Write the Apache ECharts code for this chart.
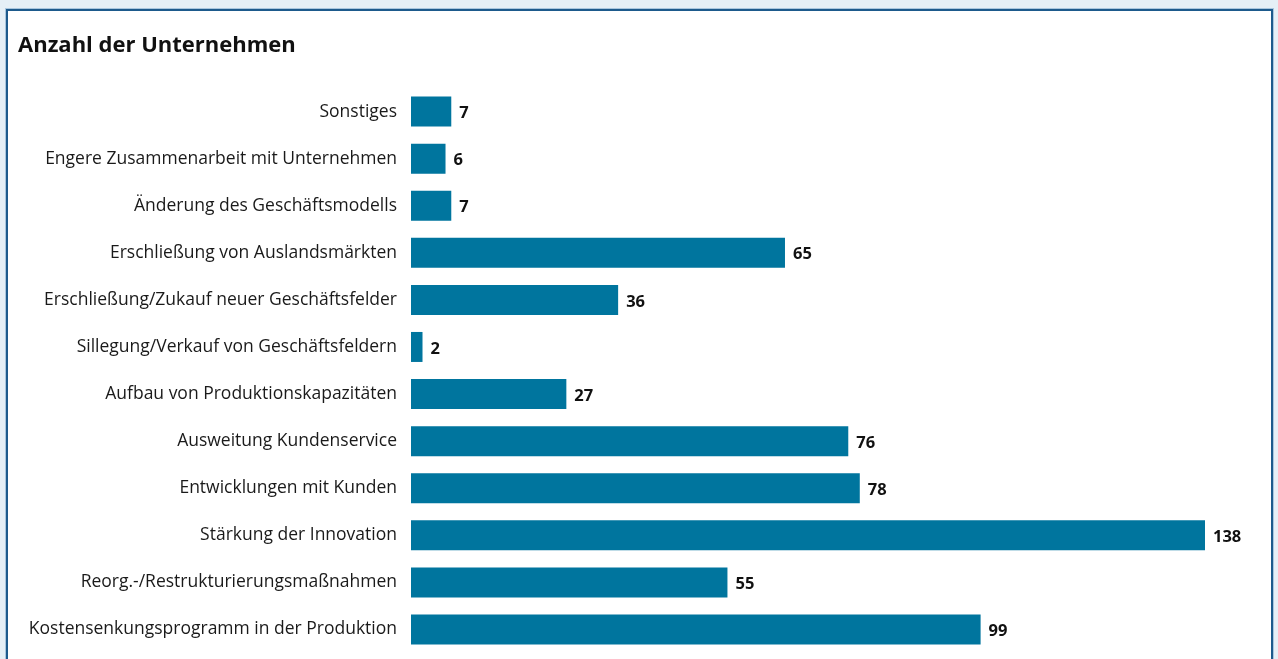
<!DOCTYPE html>
<html>
<head>
<meta charset="utf-8">
<script src="https://cdn.jsdelivr.net/npm/echarts@6/dist/echarts.min.js"></script>
<style>
  html, body { margin: 0; padding: 0; background: #e5eff6; width: 1278px; height: 659px; overflow: hidden; }
  #panel {
    position: absolute; left: 6px; top: 9px; width: 1263px; height: 660px;
    background: #fff; border: 2px solid #1d5a8c; border-bottom: none;
    box-shadow: 0 0 0 1px #a9c6de;
  }
  #chart { position: absolute; left: 0; top: 0; width: 1278px; height: 659px; }
</style>
</head>
<body>
<div id="panel"></div>
<div id="chart"></div>
<script>
// Kategorien von oben nach unten
const categories = [
  'Sonstiges',
  'Engere Zusammenarbeit mit Unternehmen',
  'Änderung des Geschäftsmodells',
  'Erschließung von Auslandsmärkten',
  'Erschließung/Zukauf neuer Geschäftsfelder',
  'Sillegung/Verkauf von Geschäftsfeldern',
  'Aufbau von Produktionskapazitäten',
  'Ausweitung Kundenservice',
  'Entwicklungen mit Kunden',
  'Stärkung der Innovation',
  'Reorg.-/Restrukturierungsmaßnahmen',
  'Kostensenkungsprogramm in der Produktion'
]
const values = [7, 6, 7, 65, 36, 2, 27, 76, 78, 138, 55, 99]
const titleText = 'Anzahl der Unternehmen'

const font = '"Open Sans", "Noto Sans", sans-serif'
const chart = echarts.init(document.getElementById('chart'), null, { renderer: 'canvas' })

chart.setOption({
  animation: false,
  title: {
    text: titleText,
    left: 13,
    top: 30,
    textStyle: { fontFamily: font, fontSize: 22, fontWeight: 'bold', color: '#111' }
  },
  grid: {
    left: 411,
    right: 73,
    top: 88,
    bottom: 6,
    containLabel: false
  },
  xAxis: {
    type: 'value',
    min: 0,
    max: function (v) { return v.max },
    show: false
  },
  yAxis: {
    type: 'category',
    data: categories,
    inverse: true,
    axisLine: { show: false },
    axisTick: { show: false },
    axisLabel: {
      margin: 14,
      padding: [5, 0, 0, 0],
      fontFamily: font,
      fontSize: 17.5,
      color: '#1a1a1a'
    }
  },
  series: [
    {
      type: 'bar',
      data: values,
      barWidth: 30,
      itemStyle: { color: '#00759e' },
      label: {
        show: true,
        position: 'right',
        distance: 8,
        offset: [0, 2],
        fontFamily: font,
        fontSize: 16.5,
        fontWeight: 'bold',
        color: '#111'
      }
    }
  ]
})
</script>
</body>
</html>
